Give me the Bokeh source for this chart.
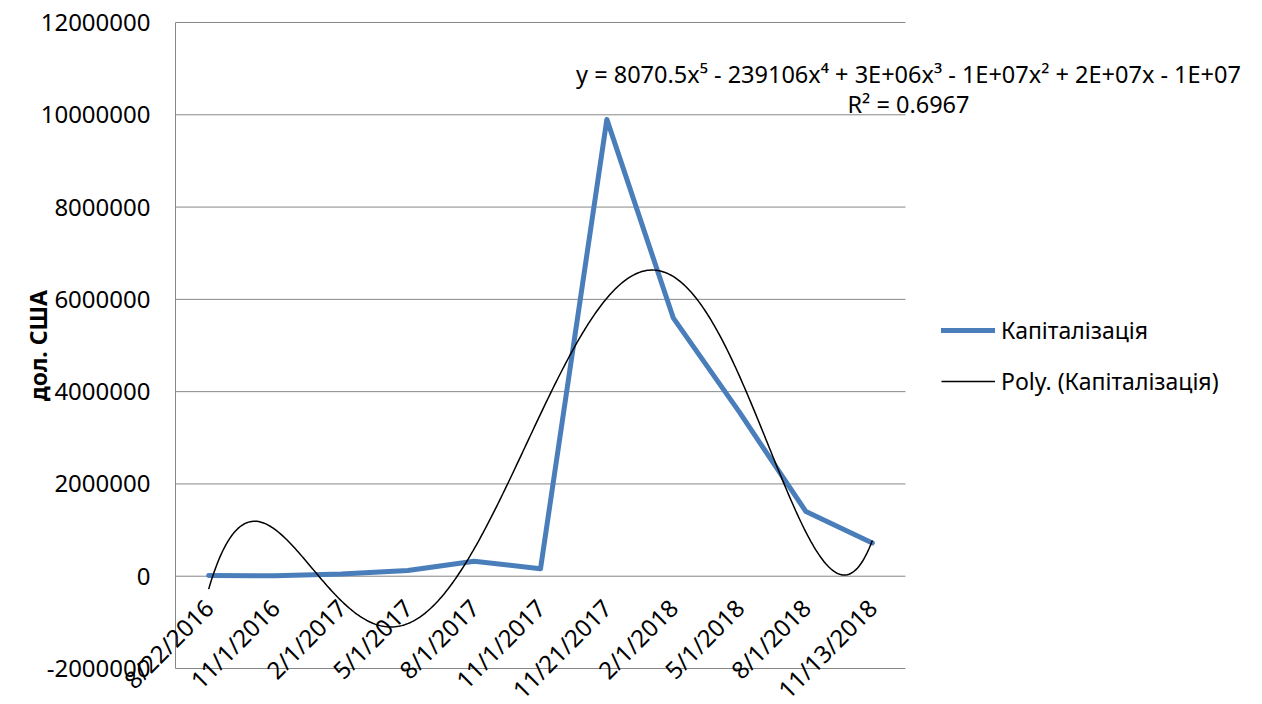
import numpy as np
from math import pi
from bokeh.plotting import figure
from bokeh.core.properties import value
from bokeh.models import (Range1d, ColumnDataSource, LabelSet, Label, Legend, LegendItem)
from bokeh.embed import file_html
from bokeh.resources import INLINE

# ---------------- data ----------------
categories = ["8/22/2016", "11/1/2016", "2/1/2017", "5/1/2017", "8/1/2017", "11/1/2017",
              "11/21/2017", "2/1/2018", "5/1/2018", "8/1/2018", "11/13/2018"]
capitalization = [15000, 10000, 50000, 125000, 325000, 160000,
                  9900000, 5600000, 3550000, 1400000, 720000]
y_ticks = [-2000000, 0, 2000000, 4000000, 6000000, 8000000, 10000000, 12000000]
series_name = "Капіталізація"
trend_name = "Poly. (Капіталізація)"
equation_text = "y = 8070.5x⁵ - 239106x⁴ + 3E+06x³ - 1E+07x² + 2E+07x - 1E+07"
r2_text = "R² = 0.6967"
y_title = "дол. США"

FONT = "Noto Sans"
GRID = "#878787"

# ---------------- layout (pixels) ----------------
W, H = 1250, 704
FL, FR, FT, FB = 175, 905, 22, 668      # plot-area box on the canvas
n = len(categories)
ymin, ymax = y_ticks[0], y_ticks[-1]
kx = (FR - FL) / n
ky = (FB - FT) / (ymax - ymin)
x_range = Range1d(-FL / kx, (W - FL) / kx)
y_range = Range1d(ymin - (H - FB) / ky, ymax + FT / ky)

def px_to_x(px):
    return (px - FL) / kx

def py_to_y(py):
    return ymin + (FB - py) / ky

x_pos = [i + 0.5 for i in range(n)]
src = ColumnDataSource(dict(x=x_pos, y=capitalization, label=categories))

# 5th-degree polynomial trend (Excel "Poly." trendline, x = 1..n)
t = np.arange(1, n + 1)
coef = np.polyfit(t, np.array(capitalization, dtype=float), 5)
tt = np.linspace(1, n, 400)
trend_src = ColumnDataSource(dict(x=tt - 0.5, y=np.polyval(coef, tt)))

p = figure(width=W, height=H, x_range=x_range, y_range=y_range,
           output_backend="svg", toolbar_location=None,
           x_axis_location=None, y_axis_location=None, min_border=0)
p.outline_line_color = None
p.grid.visible = False
p.background_fill_color = "white"
p.border_fill_color = "white"

# horizontal gridlines and the value-axis line
grid_src = ColumnDataSource(dict(y=y_ticks, x0=[0] * len(y_ticks), x1=[n] * len(y_ticks),
                                 xl=[0] * len(y_ticks), txt=[str(v) for v in y_ticks]))
p.segment(x0="x0", y0="y", x1="x1", y1="y", source=grid_src, line_color=GRID, line_width=1)
p.segment(x0=[0], y0=[ymin], x1=[0], y1=[ymax], line_color=GRID, line_width=1)

# value-axis tick labels
p.add_layout(LabelSet(x="xl", y="y", text="txt", source=grid_src, x_offset=-25,
                      text_align="right", text_baseline="middle",
                      text_font=value(FONT), text_font_size="24px", text_color="black"))

# value-axis title
p.add_layout(Label(x=px_to_x(37), y=(ymin + ymax) / 2, text=y_title, angle=pi / 2,
                   text_align="center", text_baseline="middle", text_font=FONT,
                   text_font_size="23px", text_font_style="bold", text_color="black"))

r_line = p.line("x", "y", source=src, line_color="#4A7EBB", line_width=5,
                line_cap="round", line_join="round")
r_trend = p.line("x", "y", source=trend_src, line_color="black", line_width=1.5)

# category labels (rotated 45°)
p.add_layout(LabelSet(x="x", y=0, text="label", source=src, angle=pi / 4,
                      text_align="right", text_baseline="middle",
                      x_offset=0, y_offset=-27,
                      text_font=value(FONT), text_font_size="24px", text_color="black"))

# trendline equation
p.add_layout(Label(x=px_to_x(908), y=py_to_y(73), text=equation_text, text_align="center",
                   text_baseline="middle", text_font=FONT, text_font_size="23.5px",
                   text_color="black"))
p.add_layout(Label(x=px_to_x(908), y=py_to_y(103), text=r2_text, text_align="center",
                   text_baseline="middle", text_font=FONT, text_font_size="23.5px",
                   text_color="black"))

legend = Legend(items=[LegendItem(label=series_name, renderers=[r_line]),
                       LegendItem(label=trend_name, renderers=[r_trend])],
                location=(941, H - 397), padding=0, margin=0, spacing=19,
                glyph_width=54, glyph_height=30, label_height=30, label_standoff=6,
                label_text_font=FONT, label_text_font_size="23px",
                label_text_color="black",
                border_line_color=None, background_fill_alpha=0)
p.add_layout(legend)

open("out.html", "w").write(file_html(p, INLINE))
